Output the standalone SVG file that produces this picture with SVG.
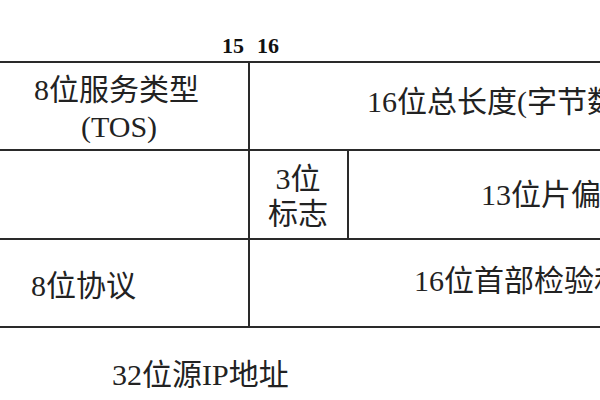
<svg xmlns="http://www.w3.org/2000/svg" width="600" height="400" viewBox="0 0 600 400">
  <style>
    .t { font-family: "Liberation Serif", "Noto Sans CJK SC", serif; font-size: 30px; fill: #222; }
    .b { font-family: "Liberation Serif", serif; font-size: 22px; font-weight: bold; fill: #111; }
    .ln { stroke: #2a2a2a; stroke-width: 2; fill: none; }
  </style>
  <rect width="600" height="400" fill="#ffffff"/>
  <g id="bit-labels">
    <text class="b" x="222" y="53">15</text>
    <text class="b" x="257" y="53">16</text>
  </g>
  <g id="connectors">
    <line class="ln" x1="0" y1="62" x2="600" y2="62"/>
    <line class="ln" x1="0" y1="150" x2="600" y2="150"/>
    <line class="ln" x1="0" y1="239" x2="600" y2="239"/>
    <line class="ln" x1="0" y1="327" x2="600" y2="327"/>
    <line class="ln" x1="249" y1="62" x2="249" y2="327"/>
    <line class="ln" x1="348" y1="150" x2="348" y2="239"/>
  </g>
  <g id="tos">
    <text class="t" x="34" y="100">8位服务类型</text>
    <text class="t" x="81" y="137">(TOS)</text>
  </g>
  <g id="total-length">
    <text class="t" x="367" y="112">16位总长度(字节数</text>
  </g>
  <g id="flags">
    <text class="t" x="298" y="189" text-anchor="middle">3位</text>
    <text class="t" x="298" y="224" text-anchor="middle">标志</text>
  </g>
  <g id="fragment-offset">
    <text class="t" x="481" y="205">13位片偏</text>
  </g>
  <g id="protocol">
    <text class="t" x="31" y="296">8位协议</text>
  </g>
  <g id="header-checksum">
    <text class="t" x="414" y="291">16位首部检验和</text>
  </g>
  <g id="source-ip">
    <text class="t" x="112" y="385">32位源IP地址</text>
  </g>
</svg>
